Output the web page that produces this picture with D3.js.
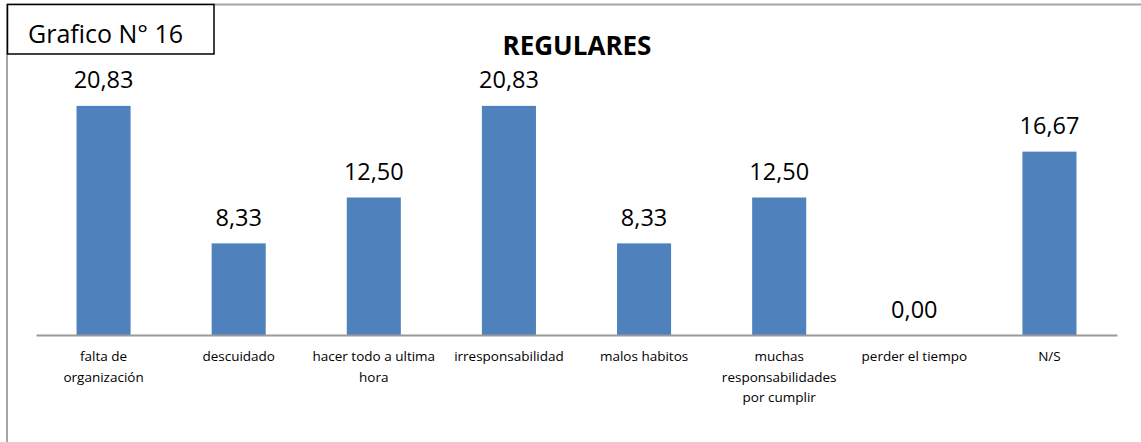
<!DOCTYPE html>
<html>
<head>
<meta charset="utf-8">
<script src="https://cdn.jsdelivr.net/npm/d3@7/dist/d3.min.js"></script>
<style>
  html, body { margin: 0; padding: 0; background: #fff; }
  svg { display: block; }
  text { font-family: "Open Sans", "Liberation Sans", sans-serif; fill: #000; }
</style>
</head>
<body>
<svg id="chart" width="1141" height="442"></svg>
<script>
const categories = [
  ["falta de", "organización"],
  ["descuidado"],
  ["hacer todo a ultima", "hora"],
  ["irresponsabilidad"],
  ["malos habitos"],
  ["muchas", "responsabilidades", "por cumplir"],
  ["perder el tiempo"],
  ["N/S"]
];
const values = [20.83, 8.33, 12.50, 20.83, 8.33, 12.50, 0.00, 16.67];
const chartTitle = "REGULARES";
const boxLabel = "Grafico N° 16";

const svg = d3.select("#chart");
const W = 1141, H = 442;

// outer frame (top and left edges visible)
svg.append("line").attr("x1", 7).attr("x2", W).attr("y1", 4.5).attr("y2", 4.5)
  .attr("stroke", "#a6a6a6").attr("stroke-width", 2);
svg.append("line").attr("x1", 7).attr("x2", 7).attr("y1", 4).attr("y2", H)
  .attr("stroke", "#a6a6a6").attr("stroke-width", 2);

const keys = categories.map((c, i) => "c" + i);
const x = d3.scaleBand().domain(keys).range([36, 1117]).paddingInner(0.6).paddingOuter(0.3);
const y = d3.scaleLinear().domain([0, 25]).range([335, 60]);

// bars
svg.append("g").selectAll("rect").data(values).join("rect")
  .attr("x", (d, i) => x(keys[i]))
  .attr("width", x.bandwidth())
  .attr("y", d => y(d))
  .attr("height", d => y(0) - y(d))
  .attr("fill", "#4f81bd");

// x axis
const xAxis = d3.axisBottom(x).tickSize(0).tickFormat("");
const gx = svg.append("g").attr("transform", `translate(0,${y(0)})`).call(xAxis);
gx.select(".domain").attr("stroke", "#9a9a9a").attr("stroke-width", 2);

// category labels
const lab = svg.append("g").selectAll("text").data(categories).join("text")
  .attr("text-anchor", "middle")
  .attr("font-size", "13.5px")
  .attr("x", (d, i) => x(keys[i]) + x.bandwidth() / 2)
  .attr("y", 361);
lab.selectAll("tspan").data(d => d).join("tspan")
  .attr("x", function() { return this.parentNode.getAttribute("x"); })
  .attr("dy", (d, i) => i === 0 ? 0 : 20.5)
  .text(d => d);

// value labels
svg.append("g").selectAll("text").data(values).join("text")
  .attr("text-anchor", "middle")
  .attr("font-size", "23.5px")
  .attr("x", (d, i) => x(keys[i]) + x.bandwidth() / 2)
  .attr("y", d => y(d) - 17.5)
  .text(d => d.toFixed(2).replace(".", ","));

// chart title
svg.append("text").attr("x", 577).attr("y", 54.5).attr("text-anchor", "middle")
  .attr("font-size", "26px").attr("font-weight", "bold").text(chartTitle);

// label box
svg.append("rect").attr("x", 7.5).attr("y", 4.5).attr("width", 206.5).attr("height", 49.5)
  .attr("fill", "#fff").attr("stroke", "#000").attr("stroke-width", 1.5);
svg.append("text").attr("x", 28).attr("y", 43).attr("font-size", "25px").text(boxLabel);
</script>
</body>
</html>
